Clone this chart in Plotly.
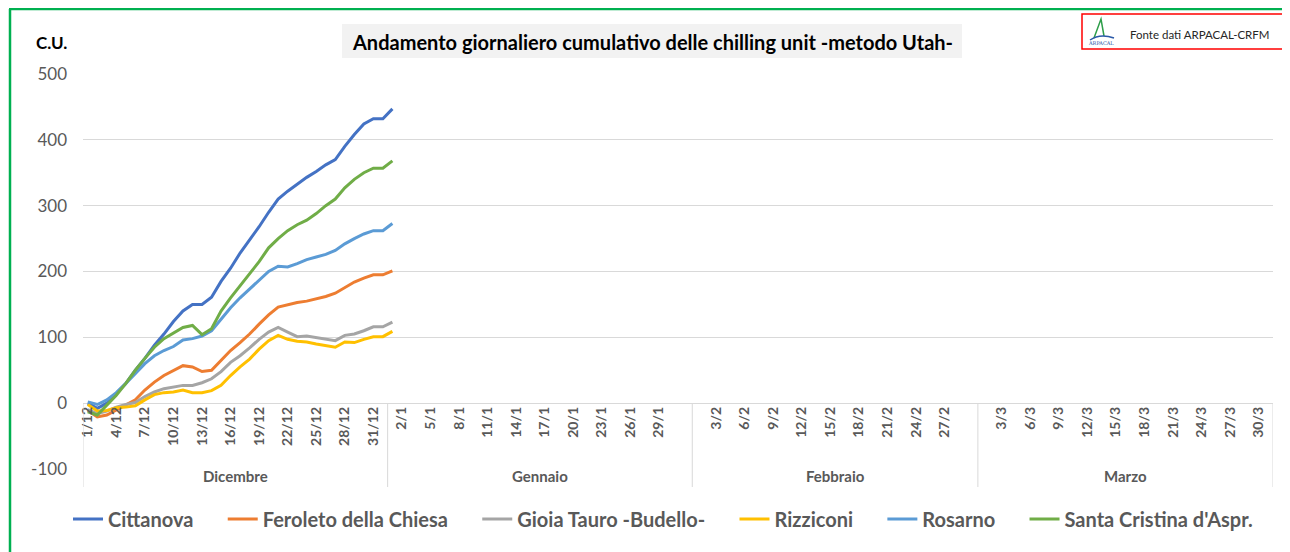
import plotly.graph_objects as go

# ---------------- data ----------------
months = ["Dicembre", "Gennaio", "Febbraio", "Marzo"]
month_numbers = [12, 1, 2, 3]
month_lengths = [31, 31, 29, 31]
spare_rows = [1, 1, 1, 0]  # each month block in the source sheet ends with one spare row (except the last)

series_names = ["Cittanova", "Feroleto della Chiesa", "Gioia Tauro -Budello-",
                "Rizziconi", "Rosarno", "Santa Cristina d'Aspr."]
series_colors = ["#4472C4", "#ED7D31", "#A5A5A5", "#FFC000", "#5B9BD5", "#70AD47"]

cittanova = [0, -8, 0, 15, 30, 50, 68, 88, 105, 124, 140, 150, 150, 161, 185, 205, 228,
             248, 268, 290, 310, 322, 333, 343, 352, 362, 370, 390, 408, 424, 432, 432, 447]
feroleto = [-11, -21, -18, -10, -3, 5, 20, 32, 42, 50, 57, 55, 48, 50, 65, 80, 92,
            105, 120, 134, 146, 150, 153, 155, 158, 162, 167, 176, 184, 190, 195, 195, 201]
gioia_tauro = [-10, -16, -12, -6, -2, 1, 10, 17, 22, 25, 27, 27, 31, 37, 48, 62, 72,
               84, 97, 108, 115, 108, 101, 102, 100, 97, 95, 103, 105, 110, 116, 116, 123]
rizziconi = [-2, -12, -11, -7, -6, -4, 5, 13, 16, 17, 20, 16, 16, 19, 27, 42, 55,
             67, 82, 95, 103, 97, 94, 93, 90, 87, 85, 93, 92, 97, 101, 101, 109]
rosarno = [2, -2, 5, 16, 30, 45, 60, 72, 80, 86, 96, 98, 102, 110, 127, 145, 160,
           173, 186, 200, 208, 207, 212, 218, 222, 226, 232, 242, 250, 257, 262, 262, 273]
santa_cristina = [-13, -18, -3, 12, 30, 50, 68, 85, 98, 106, 115, 118, 104, 113, 140, 160, 178,
                  197, 215, 236, 250, 262, 271, 278, 288, 300, 310, 327, 340, 350, 357, 357, 368]
series_values = [cittanova, feroleto, gioia_tauro, rizziconi, rosarno, santa_cristina]

y_tick_values = [-100, 0, 100, 200, 300, 400, 500]
y_tick_labels = ["-100", "0", "100", "200", "300", "400", "500"]

title_text = "Andamento giornaliero cumulativo delle chilling unit -metodo Utah-"
unit_text = "C.U."
source_text = "Fonte dati ARPACAL-CRFM"

# ---------------- category axis ----------------
categories = []
month_bounds = []
for num, length, spare in zip(month_numbers, month_lengths, spare_rows):
    start = len(categories)
    categories += [f"{d}/{num}" for d in range(1, length + 1)] + [""] * spare
    month_bounds.append((start - 0.5, len(categories) - 0.5))

tick_idx = [i for i in range(0, len(categories), 3) if categories[i]]
tick_txt = [categories[i] for i in tick_idx]

# ---------------- layout helpers (window pixel -> paper) ----------------
OFF = 8                      # page body margin
W, H = 1290 - OFF, 552 - OFF
PL, PR, PT, PB = 83, 1273, 74, 469   # plot area in window pixels
def pxx(px):
    return (px - PL) / (PR - PL)
def pxy(py):
    return (PB - py) / (PB - PT)

FONT = "Lato"
GRAY = "#595959"
GRID = "#D9D9D9"
LEGEND_PAD = "\u00a0" * 5   # extra spacing between legend entries

fig = go.Figure()
for name, color, vals in zip(series_names, series_colors, series_values):
    fig.add_trace(go.Scatter(
        x=list(range(len(vals))), y=vals, name=name + LEGEND_PAD, mode="lines",
        line=dict(color=color, width=3), hovertemplate=f"{name}: %{{y}}<extra></extra>"))

zero_pos = (0 - (-100)) / 600

shapes = []
# green outer frame
shapes.append(dict(type="line", xref="paper", yref="paper", x0=pxx(10), x1=pxx(10),
                   y0=pxy(9), y1=pxy(560), line=dict(color="#00B050", width=2.5)))
shapes.append(dict(type="line", xref="paper", yref="paper", x0=pxx(9), x1=pxx(1295),
                   y0=pxy(9), y1=pxy(9), line=dict(color="#00B050", width=2.5)))
# title box
shapes.append(dict(type="rect", xref="paper", yref="paper", x0=pxx(342), x1=pxx(962),
                   y0=pxy(58), y1=pxy(24), fillcolor="#F2F2F2", line=dict(width=0), layer="below"))
# source box
shapes.append(dict(type="rect", xref="paper", yref="paper", x0=pxx(1082), x1=pxx(1287),
                   y0=pxy(49), y1=pxy(14), line=dict(color="#FF0000", width=1.5)))
# logo: green peak + blue swoosh
shapes.append(dict(type="path", xref="paper", yref="paper",
                   path=f"M {pxx(1094)},{pxy(38)} L {pxx(1101)},{pxy(19)} L {pxx(1104)},{pxy(36)}",
                   line=dict(color="#2E9E4A", width=1.5)))
shapes.append(dict(type="path", xref="paper", yref="paper",
                   path=f"M {pxx(1090)},{pxy(40)} Q {pxx(1100)},{pxy(33)} {pxx(1114)},{pxy(38)}",
                   line=dict(color="#2B59A8", width=1.5)))
# month group separators
for b in sorted(set([m[0] for m in month_bounds] + [m[1] for m in month_bounds])):
    shapes.append(dict(type="line", xref="x", yref="paper", x0=b, x1=b,
                       y0=zero_pos, y1=pxy(487), line=dict(color=GRID, width=1)))

annotations = [
    dict(text=f"<b>{title_text}</b>", xref="paper", yref="paper", x=pxx(652), y=pxy(42),
         showarrow=False, font=dict(family=FONT, size=20, color="#000000"),
         xanchor="center", yanchor="middle"),
    dict(text=f"<b>{unit_text}</b>", xref="paper", yref="paper", x=pxx(34), y=pxy(42),
         showarrow=False, font=dict(family=FONT, size=17, color="#000000"),
         xanchor="left", yanchor="middle"),
    dict(text=source_text, xref="paper", yref="paper", x=pxx(1128), y=pxy(35),
         showarrow=False, font=dict(family=FONT, size=11.5, color="#262626"),
         xanchor="left", yanchor="middle"),
    dict(text="ARPACAL", xref="paper", yref="paper", x=pxx(1101), y=pxy(43),
         showarrow=False, font=dict(family="DejaVu Serif", size=5, color="#2B59A8"),
         xanchor="center", yanchor="middle"),
]
for name, (a, b) in zip(months, month_bounds):
    annotations.append(dict(text=f"<b>{name}</b>", xref="x", yref="paper", x=(a + b) / 2,
                            y=pxy(476), showarrow=False,
                            font=dict(family=FONT, size=15, color=GRAY),
                            xanchor="center", yanchor="middle"))

fig.update_layout(
    width=W, height=H,
    margin=dict(l=PL - OFF, r=W - (PR - OFF), t=PT - OFF, b=H - (PB - OFF)),
    paper_bgcolor="white", plot_bgcolor="white",
    showlegend=True,
    legend=dict(orientation="h", x=pxx(68), y=pxy(519), xanchor="left", yanchor="middle",
                font=dict(family=FONT, size=20, color=GRAY, weight="bold"),
                itemwidth=30, tracegroupgap=0),
    shapes=shapes, annotations=annotations,
    xaxis=dict(range=[-0.5, len(categories) - 0.5], tickmode="array",
               tickvals=tick_idx, ticktext=tick_txt, tickangle=-90,
               tickfont=dict(family=FONT, size=14, color=GRAY, weight="bold"),
               showgrid=False, zeroline=False, showline=False, ticks="",
               anchor="free", position=zero_pos),
    yaxis=dict(range=[-100, 500], tickmode="array", tickvals=y_tick_values,
               ticktext=y_tick_labels, showgrid=True, gridcolor=GRID, gridwidth=1,
               zeroline=False, showline=False, ticks="", ticklabelstandoff=15,
               tickfont=dict(family=FONT, size=17, color=GRAY)),
)

fig.write_html("out.html")
